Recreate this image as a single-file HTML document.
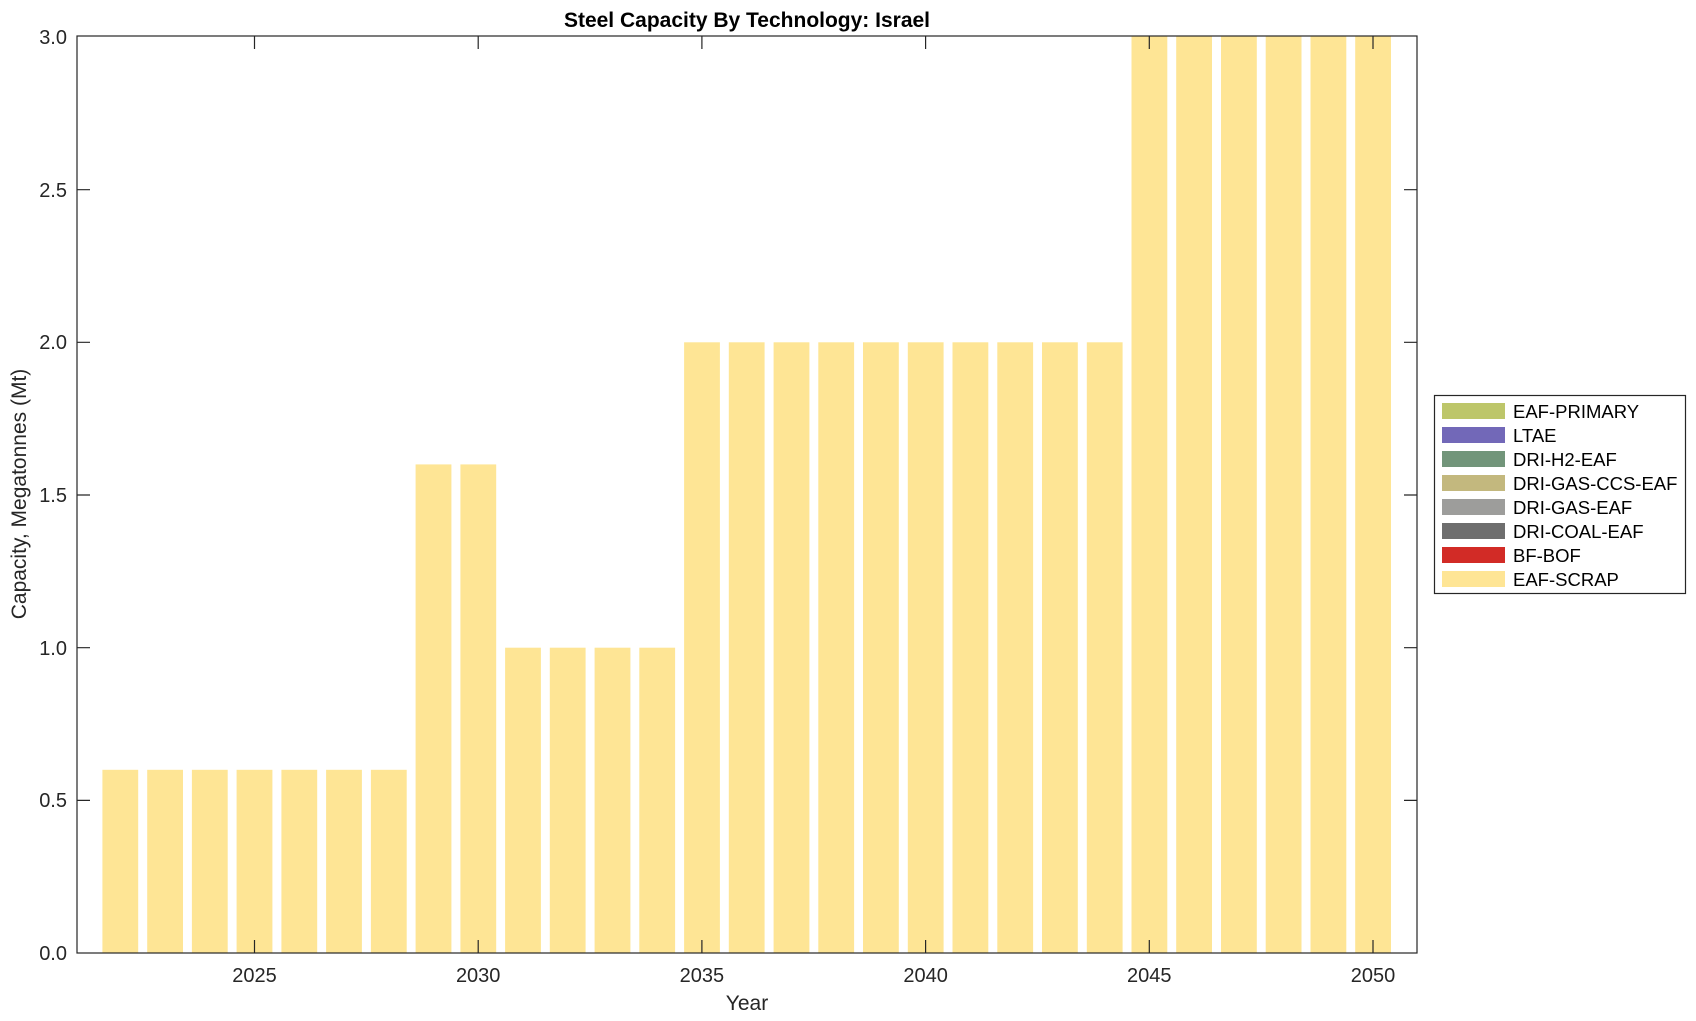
<!DOCTYPE html>
<html><head><meta charset="utf-8"><style>
body{margin:0;background:#fff;}
svg{display:block;font-family:"Liberation Sans",Arial,sans-serif;}
</style></head><body>
<svg width="1696" height="1021" viewBox="0 0 1696 1021" xmlns="http://www.w3.org/2000/svg">
<rect width="1696" height="1021" fill="#fff"/>
<g fill="#FEE595">
<rect x="102.4" y="769.8" width="35.8" height="183.2"/>
<rect x="147.2" y="769.8" width="35.8" height="183.2"/>
<rect x="191.9" y="769.8" width="35.8" height="183.2"/>
<rect x="236.6" y="769.8" width="35.8" height="183.2"/>
<rect x="281.4" y="769.8" width="35.8" height="183.2"/>
<rect x="326.1" y="769.8" width="35.8" height="183.2"/>
<rect x="370.9" y="769.8" width="35.8" height="183.2"/>
<rect x="415.6" y="464.4" width="35.8" height="488.6"/>
<rect x="460.4" y="464.4" width="35.8" height="488.6"/>
<rect x="505.1" y="647.7" width="35.8" height="305.3"/>
<rect x="549.8" y="647.7" width="35.8" height="305.3"/>
<rect x="594.6" y="647.7" width="35.8" height="305.3"/>
<rect x="639.3" y="647.7" width="35.8" height="305.3"/>
<rect x="684.1" y="342.3" width="35.8" height="610.7"/>
<rect x="728.8" y="342.3" width="35.8" height="610.7"/>
<rect x="773.6" y="342.3" width="35.8" height="610.7"/>
<rect x="818.3" y="342.3" width="35.8" height="610.7"/>
<rect x="863.0" y="342.3" width="35.8" height="610.7"/>
<rect x="907.8" y="342.3" width="35.8" height="610.7"/>
<rect x="952.5" y="342.3" width="35.8" height="610.7"/>
<rect x="997.3" y="342.3" width="35.8" height="610.7"/>
<rect x="1042.0" y="342.3" width="35.8" height="610.7"/>
<rect x="1086.8" y="342.3" width="35.8" height="610.7"/>
<rect x="1131.5" y="36" width="35.8" height="917"/>
<rect x="1176.2" y="36" width="35.8" height="917"/>
<rect x="1221.0" y="36" width="35.8" height="917"/>
<rect x="1265.7" y="36" width="35.8" height="917"/>
<rect x="1310.5" y="36" width="35.8" height="917"/>
<rect x="1355.2" y="36" width="35.8" height="917"/>
</g>
<g stroke="#262626" stroke-width="1.2" fill="none">
<rect x="77" y="36" width="1340" height="917"/>
<path d="M254.5 953v-13M478.2 953v-13M701.9 953v-13M925.6 953v-13M1149.3 953v-13M1373 953v-13
M254.5 36v13M478.2 36v13M701.9 36v13M925.6 36v13M1149.3 36v13M1373 36v13
M77 800.4h13M77 647.7h13M77 495h13M77 342.3h13M77 189.7h13
M1417 800.4h-13M1417 647.7h-13M1417 495h-13M1417 342.3h-13M1417 189.7h-13"/>
</g>
<g font-size="20" fill="#262626" text-anchor="end">
<text x="67" y="960">0.0</text>
<text x="67" y="807">0.5</text>
<text x="67" y="655">1.0</text>
<text x="67" y="502">1.5</text>
<text x="67" y="349">2.0</text>
<text x="67" y="197">2.5</text>
<text x="67" y="44">3.0</text>
</g>
<g font-size="20" fill="#262626" text-anchor="middle">
<text x="254.5" y="982">2025</text>
<text x="478.2" y="982">2030</text>
<text x="701.9" y="982">2035</text>
<text x="925.6" y="982">2040</text>
<text x="1149.3" y="982">2045</text>
<text x="1373" y="982">2050</text>
<text x="747" y="1010" font-size="21">Year</text>
<text x="747" y="27" font-size="21" font-weight="bold" fill="#000">Steel Capacity By Technology: Israel</text>
<text transform="translate(26 494) rotate(-90)" font-size="21">Capacity, Megatonnes (Mt)</text>
</g>
<rect x="1434.5" y="395.5" width="251" height="198" fill="#fff" stroke="#262626" stroke-width="1.2"/>
<g>
<rect x="1442" y="403" width="63" height="16" fill="#BDC66A"/>
<rect x="1442" y="427" width="63" height="16" fill="#7268B8"/>
<rect x="1442" y="451" width="63" height="16" fill="#72957A"/>
<rect x="1442" y="475" width="63" height="16" fill="#C3B87E"/>
<rect x="1442" y="499" width="63" height="16" fill="#9D9D9B"/>
<rect x="1442" y="523" width="63" height="16" fill="#6E6E6E"/>
<rect x="1442" y="547" width="63" height="16" fill="#D22B26"/>
<rect x="1442" y="571" width="63" height="16" fill="#FEE595"/>
</g>
<g font-size="18.5" fill="#000">
<text x="1513" y="418">EAF-PRIMARY</text>
<text x="1513" y="442">LTAE</text>
<text x="1513" y="466">DRI-H2-EAF</text>
<text x="1513" y="490">DRI-GAS-CCS-EAF</text>
<text x="1513" y="514">DRI-GAS-EAF</text>
<text x="1513" y="538">DRI-COAL-EAF</text>
<text x="1513" y="562">BF-BOF</text>
<text x="1513" y="586">EAF-SCRAP</text>
</g>
</svg>
</body></html>
